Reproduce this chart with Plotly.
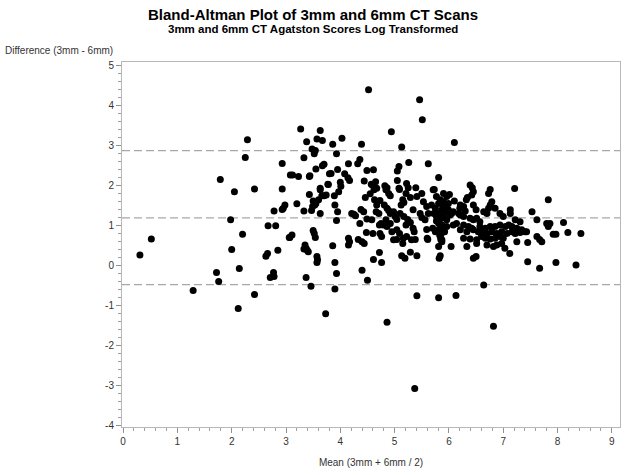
import plotly.graph_objects as go

# Bland-Altman data: mean of (3mm, 6mm) log scores and difference (3mm - 6mm)
mean_vals = [
    0.31, 0.52, 1.29, 1.72, 1.76, 1.79, 1.98, 2.0, 2.05, 2.12, 2.14, 2.2, 2.25, 2.29, 2.42, 2.42,
    2.63, 2.66, 2.67, 2.71, 2.77, 2.78, 2.78, 2.81, 2.85, 2.93, 2.93, 2.93, 2.95, 2.98, 3.06, 3.08,
    4.52, 5.46, 5.51, 3.27, 3.63, 4.94, 3.38, 3.57, 3.67, 4.03, 3.86, 4.39, 5.13, 3.48, 3.54, 3.52,
    3.93, 3.33, 4.36, 4.32, 5.26, 5.62, 3.7, 3.67, 4.15, 3.55, 3.95, 4.49, 4.61, 5.08, 5.05, 3.12,
    3.23, 3.44, 3.43, 3.83, 3.8, 4.08, 4.14, 4.17, 4.0, 4.01, 4.44, 4.57, 4.65, 5.05, 5.22, 5.81,
    3.77, 4.82, 4.86, 3.63, 4.67, 5.08, 5.25, 5.39, 5.73,
    6.1, 6.39, 6.43, 6.76, 7.21,
    3.2, 3.33, 3.43, 3.5, 3.55, 3.49, 3.53, 3.47, 3.63, 3.66, 3.6, 3.7, 3.74, 3.63, 3.78, 3.89,
    3.9, 3.95, 3.97, 3.93, 4.21, 4.25, 4.28, 4.38, 4.43, 4.46, 4.55, 4.59, 4.62, 4.49, 4.36, 4.63,
    4.67, 4.73, 4.66, 4.71, 4.58, 4.72, 4.75, 4.48, 4.6, 4.73, 4.84, 4.89, 4.92, 4.81, 4.86, 4.89,
    4.92, 4.98, 5.01, 5.04, 4.84, 4.79, 4.86, 4.92, 4.76, 4.95, 5.04, 5.09, 4.98, 5.04, 5.09, 5.15,
    5.17, 5.12, 5.21, 5.29, 5.34, 5.41, 5.1, 5.17, 5.24, 5.21, 5.29, 5.34, 5.36, 5.16, 5.22, 5.15,
    5.31, 5.38, 5.13, 5.19, 5.29, 5.41, 5.5, 5.53, 5.59, 5.62, 5.59, 5.47, 5.5, 5.56, 5.6, 5.71,
    5.77, 5.84, 5.9, 5.96, 5.68, 5.75, 5.81, 5.9, 5.96, 5.99, 5.72, 5.77, 5.81, 5.86, 5.9, 5.96,
    5.77, 5.81, 5.86, 5.7, 5.75, 5.81, 5.86, 5.92, 5.83, 5.85, 5.87, 5.81, 5.84, 5.82, 5.61,
    3.11, 3.07, 3.5, 3.52, 3.54, 3.35, 3.37, 3.39, 3.41, 3.33, 3.57, 3.58, 3.57, 3.86, 3.9, 3.93,
    3.9, 3.37, 3.46, 4.15, 4.17, 4.15, 4.33, 4.4, 4.44, 4.4, 4.5, 4.61, 4.72, 4.76, 5.41, 5.81,
    3.73, 4.86, 5.37,
    6.45, 6.42, 6.34, 6.32, 6.01, 6.73, 6.79, 6.76, 6.73, 7.83, 5.9, 5.96, 5.93, 5.87, 5.99, 6.05,
    6.08, 6.18, 6.21, 6.27, 6.64, 6.7, 6.85, 6.94, 7.0, 7.13, 7.13, 7.22, 7.31, 7.53, 7.62, 7.8,
    7.86, 7.83, 8.11, 7.92, 7.97, 8.19, 8.43, 7.62, 7.67, 7.71, 7.45, 7.45, 7.67, 7.97, 8.34, 6.64,
    6.13, 6.45, 6.5, 7.12, 7.03, 6.04, 6.33, 6.82,
    5.84, 6.02, 6.21, 6.27, 6.39, 6.45, 6.51, 6.57,
    5.87, 5.96, 6.08, 6.14, 6.27, 6.36, 6.42, 6.57, 6.67, 6.76, 6.85, 6.94, 7.04, 7.1, 7.16, 7.25,
    7.34, 7.43,
    5.9, 6.21, 6.33, 6.45, 6.54, 6.64, 6.7, 6.79, 6.88, 6.97, 7.07, 7.16, 7.22, 7.31, 7.4,
    5.84, 5.87, 6.27, 6.39, 6.51, 6.6, 6.67, 6.76, 6.85, 6.94, 7.0, 7.25,
    6.51, 6.7, 6.82, 6.88, 6.97,
    6.1, 6.2, 6.45, 6.5, 6.3,
]
diff_vals = [
    0.25, 0.65, -0.64, -0.19, -0.41, 2.14, 1.13, 0.39, 1.83, -1.09, -0.09, 0.77, 2.69, 3.13, 1.9, -0.74,
    0.22, 0.29, 0.98, -0.31, -0.19, -0.29, 1.35, 0.98, 0.37, 2.54, 1.9, 1.39, 1.42, 1.5, 0.69, 2.25,
    4.38, 4.13, 3.63, 3.4, 3.36, 3.33, 3.08, 3.15, 3.11, 3.17, 3.02, 3.02, 2.95, 2.9, 2.86, 2.78,
    2.78, 2.68, 2.64, 2.53, 2.56, 2.53, 2.52, 2.48, 2.53, 2.4, 2.39, 2.36, 2.38, 2.46, 2.35, 2.25,
    2.21, 2.23, 2.21, 2.29, 2.28, 2.28, 2.18, 2.11, 2.07, 1.97, 2.1, 2.02, 2.08, 2.11, 2.04, 2.19,
    2.02, 1.98, 1.93, 1.92, 1.92, 1.92, 1.93, 1.93, 1.89,
    3.06, 2.0, 1.93, 1.89, 1.91,
    1.53, 1.35, 1.76, 1.6, 1.54, 1.46, 1.5, 1.36, 1.88, 1.73, 1.63, 1.73, 1.75, 1.29, 2.01, 1.73,
    1.5, 1.33, 1.83, 1.11, 1.29, 1.27, 1.23, 1.39, 1.33, 1.69, 1.78, 2.0, 1.88, 1.15, 1.04, 1.63,
    1.5, 1.61, 1.33, 1.29, 1.13, 1.0, 1.04, 0.81, 0.79, 0.79, 1.88, 1.79, 1.73, 1.5, 1.42, 1.36,
    1.29, 1.33, 1.21, 1.14, 1.13, 1.0, 0.96, 1.04, 0.71, 0.83, 0.88, 0.79, 0.63, 0.64, 1.89, 1.63,
    1.56, 1.5, 1.79, 1.69, 1.38, 1.71, 1.29, 1.21, 1.14, 1.0, 1.06, 0.92, 0.83, 0.67, 0.71, 0.54,
    0.63, 0.64, 0.23, 0.17, 0.32, 0.23, 1.79, 1.58, 1.46, 1.29, 0.89, 1.29, 1.19, 1.13, 0.67, 1.88,
    1.71, 1.63, 1.79, 1.71, 1.5, 1.42, 1.54, 1.46, 1.33, 1.54, 1.29, 1.21, 1.29, 1.17, 1.21, 1.13,
    1.1, 1.04, 1.0, 0.92, 0.83, 0.88, 0.79, 0.83, 0.75, 0.64, 0.58, 0.46, 0.23, 0.17, 0.64,
    0.75, 0.69, 0.86, 0.79, 0.69, 0.5, 0.42, 0.37, 0.33, 0.4, 0.21, 0.13, 0.06, 0.48, 0.06, -0.21,
    -0.6, -0.31, -0.53, 0.67, 0.58, 0.5, 0.64, 0.58, 0.54, -0.13, -0.38, 0.14, 0.31, 0.06, -0.77, -0.82,
    -1.22, -1.43, -3.09,
    1.83, 1.75, 1.69, 1.63, 1.76, 1.79, 1.58, 1.5, 1.42, 1.63, 1.58, 1.5, 1.42, 1.38, 1.38, 1.29,
    1.33, 1.29, 1.5, 1.46, 1.33, 1.29, 1.42, 1.29, 1.21, 1.38, 1.29, 1.13, 1.08, 1.33, 1.13, 1.04,
    1.04, 0.96, 1.06, 0.77, 0.77, 0.81, 0.79, 0.71, 0.64, 0.58, 0.56, 0.08, -0.08, 0.06, 0.0, -0.5,
    -0.76, 0.17, 0.21, 0.29, 0.42, 0.46, 0.46, -1.53,
    1.29, 1.25, 1.25, 1.21, 1.17, 1.13, 1.17, 1.08,
    1.0, 0.96, 1.0, 1.04, 1.0, 0.96, 0.92, 0.96, 0.92, 0.96, 0.96, 1.0, 0.96, 1.0, 0.96, 0.92,
    0.88, 0.83,
    0.88, 0.88, 0.83, 0.88, 0.83, 0.83, 0.79, 0.83, 0.79, 0.83, 0.79, 0.83, 0.79, 0.81, 0.83,
    0.71, 0.63, 0.67, 0.65, 0.63, 0.71, 0.67, 0.65, 0.67, 0.71, 0.67, 0.58,
    0.54, 0.5, 0.46, 0.5, 0.54,
    1.6, 1.42, 1.5, 1.38, 1.35,
]

# Reference lines: mean difference and limits of agreement
mean_diff = 1.18
upper_loa = 2.86
lower_loa = -0.49
ref_lines = [upper_loa, mean_diff, lower_loa]

x_ticks = [0, 1, 2, 3, 4, 5, 6, 7, 8, 9]
y_ticks = [-4, -3, -2, -1, 0, 1, 2, 3, 4, 5]

fig = go.Figure()
fig.add_trace(go.Scatter(
    x=mean_vals, y=diff_vals, mode="markers",
    marker=dict(color="black", size=7, line=dict(width=0)),
    showlegend=False, hoverinfo="x+y",
))

for v in ref_lines:
    fig.add_shape(type="line", xref="paper", x0=0, x1=1, yref="y", y0=v, y1=v,
                  line=dict(color="#a8a8a8", width=1.2, dash="8px,4px"), layer="below")

FONT = "Liberation Sans, Arial, sans-serif"
axis_font = dict(family=FONT, size=10, color="#333333")

fig.update_layout(
    width=629, height=475,
    margin=dict(l=122, r=9, t=62, b=48, autoexpand=False),
    paper_bgcolor="white", plot_bgcolor="white",
    font=axis_font,
    xaxis=dict(
        range=[-0.02, 9.15], tickvals=x_ticks, ticktext=[str(t) for t in x_ticks],
        showgrid=False, zeroline=False, showline=True, linecolor="#b8b8b8", linewidth=1,
        mirror=True, ticks="outside", ticklen=5, tickcolor="#909090", automargin=False,
        minor=dict(dtick=0.2, ticklen=3, tickcolor="#a0a0a0", showgrid=False, ticks="outside"),
        tickfont=axis_font,
        title=dict(text="Mean (3mm + 6mm / 2)", font=axis_font, standoff=12),
    ),
    yaxis=dict(
        range=[-4.05, 5.075], tickvals=y_ticks, ticktext=[str(t) for t in y_ticks],
        showgrid=False, zeroline=False, showline=True, linecolor="#b8b8b8", linewidth=1,
        mirror=True, ticks="outside", ticklen=5, tickcolor="#909090", automargin=False,
        minor=dict(dtick=0.2, ticklen=3, tickcolor="#a0a0a0", showgrid=False, ticks="outside"),
        tickfont=axis_font,
    ),
    annotations=[
        dict(text="<b>Bland-Altman Plot of 3mm and 6mm CT Scans</b>", xref="paper", yref="paper",
             x=0.5, y=1, xshift=-58, yshift=48, showarrow=False,
             font=dict(family=FONT, size=15, color="black"),
             xanchor="center", yanchor="middle"),
        dict(text="<b>3mm and 6mm CT Agatston Scores Log Transformed</b>", xref="paper", yref="paper",
             x=0.5, y=1, xshift=-58, yshift=33, showarrow=False,
             font=dict(family=FONT, size=11.5, color="black"),
             xanchor="center", yanchor="middle"),
        dict(text="Difference (3mm - 6mm)", xref="paper", yref="paper",
             x=0, y=1, xshift=-119, yshift=12, showarrow=False, font=axis_font,
             xanchor="left", yanchor="middle"),
    ],
)

# Remove the default page margin so the 629x475 figure fills the window exactly.
fig.write_html("out.html",
               config={"displayModeBar": False},
               post_script="document.body.style.margin='0';document.body.style.overflow='hidden';")
